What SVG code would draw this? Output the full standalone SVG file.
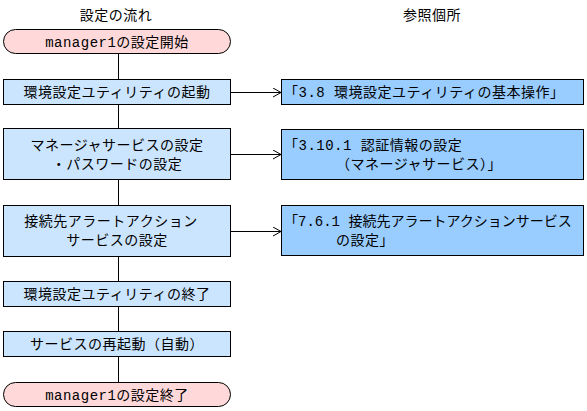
<svg xmlns="http://www.w3.org/2000/svg" width="587" height="411" viewBox="0 0 587 411">
<defs>
<marker id="open" markerWidth="10" markerHeight="10" refX="9" refY="5" orient="auto" markerUnits="userSpaceOnUse">
<path d="M1,0.5 L9,5 L1,9.5" fill="none" stroke="#000" stroke-width="1"/>
</marker>
</defs>
<style>
text{font-family:"Liberation Mono","Noto Sans CJK JP",monospace;font-size:14px;fill:#000;letter-spacing:0.5px}
.term{fill:#FFD9D9;stroke:#000;stroke-width:1}
.step{fill:#CCE5FF;stroke:#000;stroke-width:1}
.ref{fill:#99CCFF;stroke:#000;stroke-width:1}
.c{text-anchor:middle}
.tight{letter-spacing:0}
.conn{stroke:#000;stroke-width:1;fill:none}
</style>
<rect width="587" height="411" fill="#fff"/>
<text class="c" x="116" y="20">設定の流れ</text>
<text class="c" x="432" y="20">参照個所</text>
<g id="connectors">
<line class="conn" x1="118.5" y1="54" x2="118.5" y2="383"/>
<line class="conn" x1="230" y1="92.5" x2="281" y2="92.5" marker-end="url(#open)"/>
<line class="conn" x1="230" y1="154.5" x2="281" y2="154.5" marker-end="url(#open)"/>
<line class="conn" x1="230" y1="231.5" x2="281" y2="231.5" marker-end="url(#open)"/>
</g>
<g id="start">
<rect class="term" x="3.5" y="29.5" width="227" height="24" rx="12" ry="12"/>
<text class="c" x="117" y="47">manager1の設定開始</text>
</g>
<g id="step1">
<rect class="step" x="3.5" y="79.5" width="227" height="25"/>
<text class="c" x="117" y="97">環境設定ユティリティの起動</text>
</g>
<g id="step2">
<rect class="step" x="3.5" y="128.5" width="227" height="51"/>
<text class="c" x="117" y="150">マネージャサービスの設定</text>
<text class="c" x="117" y="169">・パスワードの設定</text>
</g>
<g id="step3">
<rect class="step" x="3.5" y="205.5" width="227" height="51"/>
<text class="c" x="111" y="226">接続先アラートアクション</text>
<text class="c" x="117" y="245">サービスの設定</text>
</g>
<g id="step4">
<rect class="step" x="3.5" y="281.5" width="227" height="25"/>
<text class="c" x="117" y="299">環境設定ユティリティの終了</text>
</g>
<g id="step5">
<rect class="step" x="3.5" y="331.5" width="227" height="25"/>
<text class="c" x="117" y="349">サービスの再起動（自動）</text>
</g>
<g id="end">
<rect class="term" x="3.5" y="382.5" width="227" height="24" rx="12" ry="12"/>
<text class="c" x="117" y="400">manager1の設定終了</text>
</g>
<g id="refA">
<rect class="ref" x="281.5" y="79.5" width="302" height="25"/>
<text x="284" y="97">「3.8 環境設定ユティリティの基本操作」</text>
</g>
<g id="refB">
<rect class="ref" x="281.5" y="129.5" width="302" height="50"/>
<text x="284" y="150">「3.10.1 認証情報の設定</text>
<text x="336" y="169">（マネージャサービス）」</text>
</g>
<g id="refC">
<rect class="ref" x="281.5" y="205.5" width="302" height="50"/>
<text class="tight" x="284" y="226">「7.6.1 接続先アラートアクションサービス</text>
<text x="336" y="245">の設定」</text>
</g>
</svg>
